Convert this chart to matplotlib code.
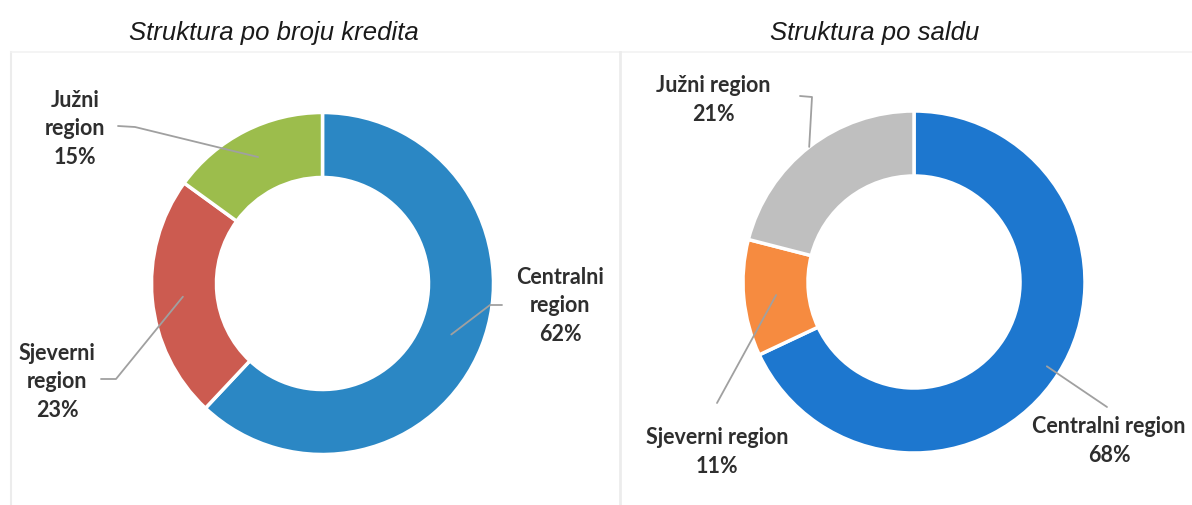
import numpy as np
import matplotlib
matplotlib.use("Agg")
import matplotlib.pyplot as plt
from matplotlib.lines import Line2D

W, H = 1192, 506

# data
regions = ["Centralni region", "Sjeverni region", "Južni region"]
broj_kredita = [62, 23, 15]
saldo = [68, 11, 21]

titles = ["Struktura po broju kredita", "Struktura po saldu"]
colors_left = ["#2b87c4", "#cc5b50", "#9cbd4c"]
colors_right = ["#1d77cf", "#f68b40", "#bfbfbf"]

# layout (figure pixels, y measured from the top)
panels = [
    dict(values=broj_kredita, colors=colors_left, title=titles[0], title_x=274,
         center=(322.5, 284.5),
         texts=["Centralni\nregion\n{}%", "Sjeverni\nregion\n{}%", "Južni\nregion\n{}%"],
         text_xy=[(560, 306), (57, 382), (75, 129)],
         lines=[[(502, 306), (490, 306)], [(101, 380), (116, 380)], [(118, 127), (135, 128)]],
         anchor_r=[0.81, 0.82, 0.83]),
    dict(values=saldo, colors=colors_right, title=titles[1], title_x=875,
         center=(914, 283),
         texts=["Centralni region\n{}%", "Sjeverni region\n{}%", "Južni region\n{}%"],
         text_xy=[(1109, 441), (717, 452), (713, 100)],
         lines=[[(1107, 408)], [(717, 404)], [(800, 97), (812, 98)]],
         anchor_r=[0.92, 0.81, 1.0]),
]
R = 171
HOLE = 0.62

fig = plt.figure(figsize=(W / 100, H / 100), dpi=100)
fig.patch.set_facecolor("white")

# faint panel frames
border = "#ececec"
fig.add_artist(Line2D([11 / W, 11 / W], [0, 1 - 53 / H], color=border, lw=1.5))
fig.add_artist(Line2D([11 / W, 1], [1 - 53 / H, 1 - 53 / H], color="#f2f2f2", lw=1.2))
fig.add_artist(Line2D([620 / W, 620 / W], [0, 1 - 53 / H], color=border, lw=2))

label_font = ["Lato", "DejaVu Sans"]
title_font = ["Liberation Sans Narrow", "Liberation Sans", "DejaVu Sans"]

for p in panels:
    cx, cy = p["center"]
    ax = fig.add_axes([0, 0, 1, 1])

    def to_data(pt):
        return ((pt[0] - cx) / R, (cy - pt[1]) / R)

    wedges, _ = ax.pie(p["values"], colors=p["colors"], startangle=90, counterclock=False,
                       radius=1, wedgeprops=dict(width=1 - HOLE, edgecolor="white", linewidth=2.5))

    for i, w in enumerate(wedges):
        mid = np.deg2rad((w.theta1 + w.theta2) / 2)
        r = p["anchor_r"][i]
        anchor = (r * np.cos(mid), r * np.sin(mid))
        pts = [to_data(q) for q in p["lines"][i]] + [anchor]
        xs, ys = zip(*pts)
        ax.plot(xs, ys, color="#a0a0a0", lw=1.3, solid_capstyle="round", zorder=3)
        tx, ty = to_data(p["text_xy"][i])
        ax.text(tx, ty, p["texts"][i].format(p["values"][i]), ha="center", va="center",
                fontsize=15.5, fontweight="bold", family=label_font, color="#2e2e2e",
                linespacing=1.42)

    ax.set_aspect("auto")
    ax.set_xlim(-cx / R, (W - cx) / R)
    ax.set_ylim((cy - H) / R, cy / R)
    ax.set_position([0, 0, 1, 1])
    ax.axis("off")
    ax.patch.set_alpha(0)

    fig.text(p["title_x"] / W, 1 - 33 / H, p["title"], ha="center", va="center",
             fontsize=18.5, style="italic", family=title_font, color="#1a1a1a")

fig.savefig("out.png", dpi=100, facecolor="white")
